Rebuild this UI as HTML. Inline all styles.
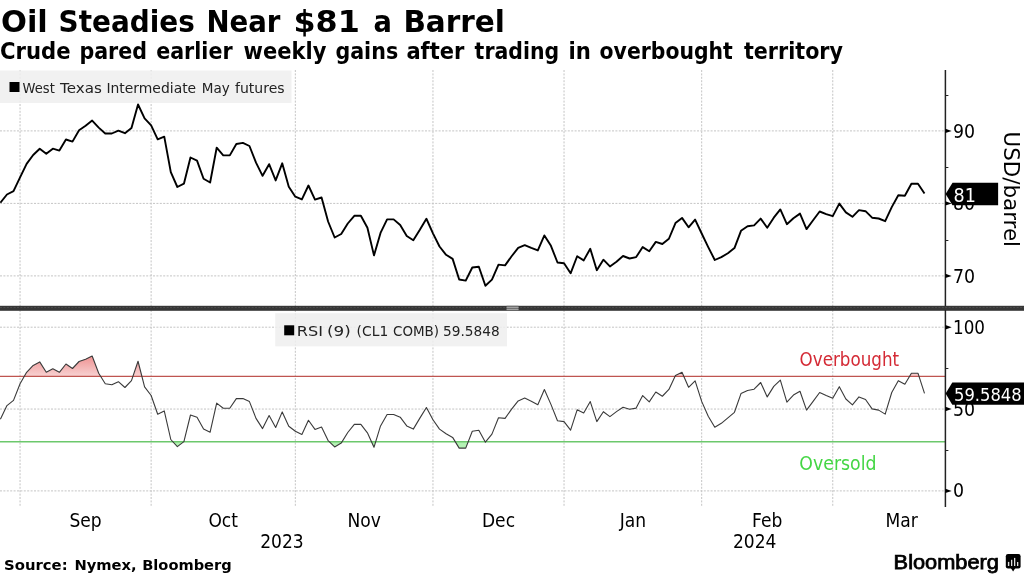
<!DOCTYPE html>
<html><head><meta charset="utf-8"><style>
html,body{margin:0;padding:0;background:#fff;width:1024px;height:576px;overflow:hidden}
svg{display:block}
.t{font-family:"DejaVu Sans","Liberation Sans",sans-serif}
.c{font-family:"DejaVu Sans Condensed","DejaVu Sans","Liberation Sans",sans-serif}
</style></head><body>
<svg width="1024" height="576" viewBox="0 0 1024 576">
<defs>
<linearGradient id="ob" x1="0" y1="355" x2="0" y2="376.35" gradientUnits="userSpaceOnUse">
<stop offset="0" stop-color="#ef8e8e"/><stop offset="1" stop-color="#f7d2d2"/>
</linearGradient>
<clipPath id="cAbove"><rect x="0" y="300" width="945" height="76.35000000000002"/></clipPath>
<clipPath id="cBelow"><rect x="0" y="441.8" width="945" height="60"/></clipPath>
</defs>
<rect width="1024" height="576" fill="#fff"/>
<g class="t" font-weight="bold" fill="#000">
<text x="1.0" y="31.7" font-size="30.2" textLength="46.8" lengthAdjust="spacingAndGlyphs">Oil</text>
<text x="58.6" y="31.7" font-size="30.2" textLength="136.2" lengthAdjust="spacingAndGlyphs">Steadies</text>
<text x="206.4" y="31.7" font-size="30.2" textLength="74.0" lengthAdjust="spacingAndGlyphs">Near</text>
<text x="293.4" y="31.7" font-size="30.2" textLength="66.4" lengthAdjust="spacingAndGlyphs">$81</text>
<text x="373.6" y="31.7" font-size="30.2" textLength="18.4" lengthAdjust="spacingAndGlyphs">a</text>
<text x="403.4" y="31.7" font-size="30.2" textLength="101.6" lengthAdjust="spacingAndGlyphs">Barrel</text>
<text x="0.0" y="58.6" font-size="22.2" textLength="70.6" lengthAdjust="spacingAndGlyphs">Crude</text>
<text x="79.4" y="58.6" font-size="22.2" textLength="67.6" lengthAdjust="spacingAndGlyphs">pared</text>
<text x="156.2" y="58.6" font-size="22.2" textLength="76.4" lengthAdjust="spacingAndGlyphs">earlier</text>
<text x="243.6" y="58.6" font-size="22.2" textLength="82.8" lengthAdjust="spacingAndGlyphs">weekly</text>
<text x="335.4" y="58.6" font-size="22.2" textLength="62.8" lengthAdjust="spacingAndGlyphs">gains</text>
<text x="406.4" y="58.6" font-size="22.2" textLength="58.0" lengthAdjust="spacingAndGlyphs">after</text>
<text x="474.6" y="58.6" font-size="22.2" textLength="84.6" lengthAdjust="spacingAndGlyphs">trading</text>
<text x="568.4" y="58.6" font-size="22.2" textLength="22.4" lengthAdjust="spacingAndGlyphs">in</text>
<text x="599.6" y="58.6" font-size="22.2" textLength="133.2" lengthAdjust="spacingAndGlyphs">overbought</text>
<text x="744.0" y="58.6" font-size="22.2" textLength="99.0" lengthAdjust="spacingAndGlyphs">territory</text>
</g>
<g stroke="#c4c4c4" stroke-width="1" stroke-dasharray="2,1.4" fill="none">
<line x1="0" y1="130.90" x2="945.4" y2="130.90"/>
<line x1="0" y1="203.40" x2="945.4" y2="203.40"/>
<line x1="0" y1="275.90" x2="945.4" y2="275.90"/>
<line x1="0" y1="327.20" x2="945.4" y2="327.20"/>
<line x1="0" y1="409.05" x2="945.4" y2="409.05"/>
<line x1="0" y1="490.90" x2="945.4" y2="490.90"/>
<line x1="20.06" y1="70" x2="20.06" y2="306"/>
<line x1="20.06" y1="310" x2="20.06" y2="507"/>
<line x1="151.14" y1="70" x2="151.14" y2="306"/>
<line x1="151.14" y1="310" x2="151.14" y2="507"/>
<line x1="295.33" y1="70" x2="295.33" y2="306"/>
<line x1="295.33" y1="310" x2="295.33" y2="507"/>
<line x1="432.96" y1="70" x2="432.96" y2="306"/>
<line x1="432.96" y1="310" x2="432.96" y2="507"/>
<line x1="564.04" y1="70" x2="564.04" y2="306"/>
<line x1="564.04" y1="310" x2="564.04" y2="507"/>
<line x1="701.68" y1="70" x2="701.68" y2="306"/>
<line x1="701.68" y1="310" x2="701.68" y2="507"/>
<line x1="832.76" y1="70" x2="832.76" y2="306"/>
<line x1="832.76" y1="310" x2="832.76" y2="507"/>
</g>
<polygon points="0.4,376.35 0.40,419.20 6.95,405.60 13.51,400.40 20.06,383.75 26.62,372.30 33.17,365.40 39.72,361.90 46.28,372.30 52.83,368.75 59.39,372.30 65.94,364.00 72.49,368.50 79.05,361.50 85.60,359.20 92.16,356.00 98.71,373.30 105.26,383.75 111.82,384.80 118.37,381.70 124.93,387.50 131.48,380.60 138.03,361.25 144.59,386.90 151.14,395.50 157.70,414.20 164.25,410.90 170.80,439.50 177.36,446.60 183.91,441.60 190.47,415.00 197.02,417.20 203.57,429.10 210.13,432.20 216.68,403.10 223.24,408.30 229.79,408.30 236.34,398.60 242.90,398.60 249.45,401.60 256.01,418.40 262.56,428.60 269.11,415.60 275.67,427.50 282.22,411.90 288.78,426.25 295.33,431.25 301.88,434.40 308.44,420.30 314.99,429.40 321.55,427.00 328.10,440.60 334.65,446.90 341.21,443.10 347.76,432.50 354.32,424.40 360.87,424.40 367.42,432.80 373.98,447.30 380.53,425.90 387.09,414.50 393.64,414.50 400.19,417.20 406.75,425.90 413.30,429.10 419.86,418.10 426.41,407.50 432.96,419.70 439.52,429.10 446.07,433.75 452.63,437.40 459.18,448.10 465.73,448.10 472.29,431.25 478.84,430.30 485.40,442.20 491.95,434.10 498.50,417.70 505.06,418.40 511.61,409.10 518.17,400.90 524.72,398.10 531.27,401.25 537.83,404.70 544.38,389.50 550.94,404.40 557.49,420.80 564.04,421.60 570.60,430.20 577.15,409.80 583.71,413.00 590.26,401.60 596.81,421.60 603.37,411.70 609.92,416.60 616.48,411.60 623.03,407.20 629.58,409.20 636.14,408.10 642.69,395.60 649.25,401.90 655.80,392.00 662.35,396.25 668.91,389.40 675.46,375.60 682.02,372.20 688.57,387.30 695.12,380.80 701.68,401.40 708.23,416.25 714.79,427.20 721.34,423.30 727.89,417.80 734.45,412.30 741.00,393.60 747.56,390.50 754.11,389.20 760.66,382.50 767.22,396.90 773.77,386.40 780.33,380.20 786.88,402.20 793.43,395.10 799.99,391.30 806.54,410.10 813.10,401.30 819.65,392.50 826.20,395.50 832.76,398.30 839.31,386.70 845.87,399.00 852.42,404.80 858.97,396.90 865.53,399.50 872.08,408.90 878.64,410.10 885.19,414.10 891.74,392.50 898.30,380.70 904.85,384.30 911.41,373.20 917.96,373.20 924.51,393.40 924.51,376.35" fill="url(#ob)" clip-path="url(#cAbove)"/>
<polygon points="0.4,441.8 0.40,419.20 6.95,405.60 13.51,400.40 20.06,383.75 26.62,372.30 33.17,365.40 39.72,361.90 46.28,372.30 52.83,368.75 59.39,372.30 65.94,364.00 72.49,368.50 79.05,361.50 85.60,359.20 92.16,356.00 98.71,373.30 105.26,383.75 111.82,384.80 118.37,381.70 124.93,387.50 131.48,380.60 138.03,361.25 144.59,386.90 151.14,395.50 157.70,414.20 164.25,410.90 170.80,439.50 177.36,446.60 183.91,441.60 190.47,415.00 197.02,417.20 203.57,429.10 210.13,432.20 216.68,403.10 223.24,408.30 229.79,408.30 236.34,398.60 242.90,398.60 249.45,401.60 256.01,418.40 262.56,428.60 269.11,415.60 275.67,427.50 282.22,411.90 288.78,426.25 295.33,431.25 301.88,434.40 308.44,420.30 314.99,429.40 321.55,427.00 328.10,440.60 334.65,446.90 341.21,443.10 347.76,432.50 354.32,424.40 360.87,424.40 367.42,432.80 373.98,447.30 380.53,425.90 387.09,414.50 393.64,414.50 400.19,417.20 406.75,425.90 413.30,429.10 419.86,418.10 426.41,407.50 432.96,419.70 439.52,429.10 446.07,433.75 452.63,437.40 459.18,448.10 465.73,448.10 472.29,431.25 478.84,430.30 485.40,442.20 491.95,434.10 498.50,417.70 505.06,418.40 511.61,409.10 518.17,400.90 524.72,398.10 531.27,401.25 537.83,404.70 544.38,389.50 550.94,404.40 557.49,420.80 564.04,421.60 570.60,430.20 577.15,409.80 583.71,413.00 590.26,401.60 596.81,421.60 603.37,411.70 609.92,416.60 616.48,411.60 623.03,407.20 629.58,409.20 636.14,408.10 642.69,395.60 649.25,401.90 655.80,392.00 662.35,396.25 668.91,389.40 675.46,375.60 682.02,372.20 688.57,387.30 695.12,380.80 701.68,401.40 708.23,416.25 714.79,427.20 721.34,423.30 727.89,417.80 734.45,412.30 741.00,393.60 747.56,390.50 754.11,389.20 760.66,382.50 767.22,396.90 773.77,386.40 780.33,380.20 786.88,402.20 793.43,395.10 799.99,391.30 806.54,410.10 813.10,401.30 819.65,392.50 826.20,395.50 832.76,398.30 839.31,386.70 845.87,399.00 852.42,404.80 858.97,396.90 865.53,399.50 872.08,408.90 878.64,410.10 885.19,414.10 891.74,392.50 898.30,380.70 904.85,384.30 911.41,373.20 917.96,373.20 924.51,393.40 924.51,441.8" fill="#b4f2b4" clip-path="url(#cBelow)"/>
<line x1="0" y1="376.35" x2="945.4" y2="376.35" stroke="#bf5550" stroke-width="1.4"/>
<line x1="0" y1="441.8" x2="945.4" y2="441.8" stroke="#6cc86c" stroke-width="1.4"/>
<text class="c" x="799.6" y="365.6" font-size="18.6" fill="#d42a35" textLength="99.6" lengthAdjust="spacingAndGlyphs">Overbought</text>
<text class="c" x="799.3" y="469.6" font-size="19.2" fill="#44d644" textLength="77.2" lengthAdjust="spacingAndGlyphs">Oversold</text>
<rect x="0" y="70.5" width="291.5" height="32.5" fill="#efefef" fill-opacity="0.85"/>
<rect x="9.5" y="82" width="10" height="10" fill="#000"/>
<g class="t" font-size="14.3" fill="#222"><text x="22.6" y="92.6" textLength="32.2" lengthAdjust="spacingAndGlyphs">West</text><text x="60.0" y="92.6" textLength="41.8" lengthAdjust="spacingAndGlyphs">Texas</text><text x="106.4" y="92.6" textLength="89.8" lengthAdjust="spacingAndGlyphs">Intermediate</text><text x="201.8" y="92.6" textLength="28.0" lengthAdjust="spacingAndGlyphs">May</text><text x="235.0" y="92.6" textLength="49.6" lengthAdjust="spacingAndGlyphs">futures</text></g>
<rect x="275.2" y="313.2" width="231.8" height="33.1" fill="#efefef" fill-opacity="0.85"/>
<rect x="284.2" y="325.3" width="10" height="10" fill="#000"/>
<g class="t" font-size="14.4" fill="#222"><text x="296.8" y="336.2" textLength="26.2" lengthAdjust="spacingAndGlyphs">RSI</text><text x="327.0" y="336.2" textLength="23.8" lengthAdjust="spacingAndGlyphs">(9)</text><text x="356.6" y="336.2" textLength="31.6" lengthAdjust="spacingAndGlyphs">(CL1</text><text x="393.0" y="336.2" textLength="46.0" lengthAdjust="spacingAndGlyphs">COMB)</text><text x="443.0" y="336.2" textLength="56.6" lengthAdjust="spacingAndGlyphs">59.5848</text></g>
<polyline points="0.40,202.70 6.95,194.50 13.51,191.20 20.06,177.30 26.62,163.90 33.17,155.00 39.72,148.70 46.28,153.80 52.83,148.70 59.39,150.60 65.94,139.50 72.49,141.60 79.05,130.20 85.60,125.80 92.16,120.60 98.71,127.60 105.26,133.50 111.82,133.50 118.37,130.60 124.93,133.20 131.48,128.00 138.03,104.50 144.59,118.40 151.14,125.40 157.70,139.30 164.25,136.70 170.80,172.20 177.36,187.00 183.91,183.70 190.47,157.50 197.02,160.60 203.57,178.75 210.13,182.50 216.68,147.70 223.24,155.40 229.79,155.40 236.34,144.00 242.90,142.90 249.45,146.00 256.01,162.70 262.56,175.80 269.11,164.20 275.67,180.40 282.22,163.30 288.78,186.70 295.33,196.70 301.88,199.40 308.44,185.50 314.99,199.60 321.55,197.50 328.10,221.50 334.65,237.50 341.21,234.00 347.76,223.50 354.32,215.80 360.87,215.80 367.42,227.70 373.98,255.40 380.53,232.90 387.09,219.40 393.64,219.40 400.19,225.00 406.75,236.00 413.30,240.20 419.86,229.80 426.41,218.75 432.96,233.30 439.52,246.50 446.07,254.80 452.63,258.90 459.18,279.50 465.73,280.60 472.29,267.50 478.84,266.70 485.40,285.80 491.95,279.60 498.50,264.60 505.06,265.40 511.61,256.25 518.17,247.90 524.72,245.20 531.27,247.90 537.83,250.40 544.38,235.40 550.94,245.80 557.49,262.50 564.04,263.30 570.60,273.30 577.15,256.25 583.71,260.40 590.26,248.75 596.81,270.20 603.37,259.70 609.92,266.40 616.48,261.70 623.03,256.00 629.58,258.50 636.14,257.10 642.69,247.10 649.25,251.25 655.80,241.90 662.35,244.00 668.91,238.75 675.46,223.10 682.02,217.90 688.57,227.30 695.12,219.60 701.68,233.50 708.23,247.10 714.79,260.00 721.34,257.10 727.89,253.30 734.45,248.10 741.00,230.80 747.56,226.25 754.11,225.40 760.66,218.60 767.22,227.70 773.77,217.70 780.33,209.40 786.88,224.20 793.43,218.20 799.99,213.60 806.54,229.10 813.10,220.30 819.65,211.50 826.20,214.10 832.76,216.10 839.31,203.60 845.87,212.40 852.42,216.80 858.97,210.10 865.53,211.20 872.08,217.70 878.64,218.50 885.19,221.20 891.74,207.10 898.30,195.30 904.85,195.70 911.41,183.70 917.96,183.70 924.51,193.60" fill="none" stroke="#000" stroke-width="1.9" stroke-linejoin="round"/>
<polyline points="0.40,419.20 6.95,405.60 13.51,400.40 20.06,383.75 26.62,372.30 33.17,365.40 39.72,361.90 46.28,372.30 52.83,368.75 59.39,372.30 65.94,364.00 72.49,368.50 79.05,361.50 85.60,359.20 92.16,356.00 98.71,373.30 105.26,383.75 111.82,384.80 118.37,381.70 124.93,387.50 131.48,380.60 138.03,361.25 144.59,386.90 151.14,395.50 157.70,414.20 164.25,410.90 170.80,439.50 177.36,446.60 183.91,441.60 190.47,415.00 197.02,417.20 203.57,429.10 210.13,432.20 216.68,403.10 223.24,408.30 229.79,408.30 236.34,398.60 242.90,398.60 249.45,401.60 256.01,418.40 262.56,428.60 269.11,415.60 275.67,427.50 282.22,411.90 288.78,426.25 295.33,431.25 301.88,434.40 308.44,420.30 314.99,429.40 321.55,427.00 328.10,440.60 334.65,446.90 341.21,443.10 347.76,432.50 354.32,424.40 360.87,424.40 367.42,432.80 373.98,447.30 380.53,425.90 387.09,414.50 393.64,414.50 400.19,417.20 406.75,425.90 413.30,429.10 419.86,418.10 426.41,407.50 432.96,419.70 439.52,429.10 446.07,433.75 452.63,437.40 459.18,448.10 465.73,448.10 472.29,431.25 478.84,430.30 485.40,442.20 491.95,434.10 498.50,417.70 505.06,418.40 511.61,409.10 518.17,400.90 524.72,398.10 531.27,401.25 537.83,404.70 544.38,389.50 550.94,404.40 557.49,420.80 564.04,421.60 570.60,430.20 577.15,409.80 583.71,413.00 590.26,401.60 596.81,421.60 603.37,411.70 609.92,416.60 616.48,411.60 623.03,407.20 629.58,409.20 636.14,408.10 642.69,395.60 649.25,401.90 655.80,392.00 662.35,396.25 668.91,389.40 675.46,375.60 682.02,372.20 688.57,387.30 695.12,380.80 701.68,401.40 708.23,416.25 714.79,427.20 721.34,423.30 727.89,417.80 734.45,412.30 741.00,393.60 747.56,390.50 754.11,389.20 760.66,382.50 767.22,396.90 773.77,386.40 780.33,380.20 786.88,402.20 793.43,395.10 799.99,391.30 806.54,410.10 813.10,401.30 819.65,392.50 826.20,395.50 832.76,398.30 839.31,386.70 845.87,399.00 852.42,404.80 858.97,396.90 865.53,399.50 872.08,408.90 878.64,410.10 885.19,414.10 891.74,392.50 898.30,380.70 904.85,384.30 911.41,373.20 917.96,373.20 924.51,393.40" fill="none" stroke="#3a3a3a" stroke-width="1.1" stroke-linejoin="round"/>
<rect x="0" y="305.8" width="1024" height="5" fill="#363636"/>
<line x1="0" y1="307.6" x2="1024" y2="307.6" stroke="#4e4e4e" stroke-width="1" stroke-dasharray="2,1.4"/>
<rect x="506.6" y="305.8" width="11.9" height="5" fill="#6a6a6a"/>
<rect x="506.6" y="306.9" width="11.9" height="1" fill="#a8a8a8"/>
<rect x="506.6" y="308.9" width="11.9" height="1" fill="#a8a8a8"/>
<line x1="945.4" y1="70" x2="945.4" y2="306" stroke="#222" stroke-width="1.5"/>
<line x1="945.4" y1="310" x2="945.4" y2="507" stroke="#222" stroke-width="1.5"/>
<polygon points="945.4,128.7 951.6999999999999,130.9 945.4,133.1" fill="#000"/>
<text class="c" x="953" y="137.5" font-size="19.3" fill="#000">90</text>
<polygon points="945.4,201.2 951.6999999999999,203.4 945.4,205.6" fill="#000"/>
<text class="c" x="953" y="210.0" font-size="19.3" fill="#000">80</text>
<polygon points="945.4,273.7 951.6999999999999,275.9 945.4,278.1" fill="#000"/>
<text class="c" x="953" y="282.5" font-size="19.3" fill="#000">70</text>
<line x1="945.4" y1="95.5" x2="948.4" y2="95.5" stroke="#222" stroke-width="1"/>
<line x1="945.4" y1="167.5" x2="948.4" y2="167.5" stroke="#222" stroke-width="1"/>
<line x1="945.4" y1="240.5" x2="948.4" y2="240.5" stroke="#222" stroke-width="1"/>
<polygon points="945.4,325.0 951.6999999999999,327.2 945.4,329.4" fill="#000"/>
<text class="c" x="953" y="333.7" font-size="19.3" fill="#000" textLength="32" lengthAdjust="spacingAndGlyphs">100</text>
<polygon points="945.4,406.8 951.6999999999999,409.0 945.4,411.2" fill="#000"/>
<text class="c" x="953" y="415.5" font-size="19.3" fill="#000">50</text>
<polygon points="945.4,488.7 951.6999999999999,490.9 945.4,493.1" fill="#000"/>
<text class="c" x="953" y="497.4" font-size="19.3" fill="#000">0</text>
<line x1="945.4" y1="368.5" x2="948.4" y2="368.5" stroke="#222" stroke-width="1"/>
<line x1="945.4" y1="450.5" x2="948.4" y2="450.5" stroke="#222" stroke-width="1"/>
<polygon points="945.6,193.9 952.5,182.7 998.1,182.7 998.1,205.2 952.5,205.2" fill="#000"/>
<text class="c" x="953.5" y="201.7" font-size="19.5" fill="#fff">81</text>
<polygon points="945.6,393.5 952.3,382.4 1024,382.4 1024,404.7 952.3,404.7" fill="#000"/>
<text class="c" x="954" y="401.4" font-size="18.4" fill="#fff" textLength="67.6" lengthAdjust="spacingAndGlyphs">59.5848</text>
<text class="t" transform="translate(1004,131.6) rotate(90)" font-size="21.4" fill="#000">USD/barrel</text>
<text class="c" x="85.6" y="526.9" font-size="19" fill="#000" text-anchor="middle">Sep</text>
<text class="c" x="223.2" y="526.9" font-size="19" fill="#000" text-anchor="middle">Oct</text>
<text class="c" x="364.1" y="526.9" font-size="19" fill="#000" text-anchor="middle">Nov</text>
<text class="c" x="498.5" y="526.9" font-size="19" fill="#000" text-anchor="middle">Dec</text>
<text class="c" x="632.9" y="526.9" font-size="19" fill="#000" text-anchor="middle">Jan</text>
<text class="c" x="767.2" y="526.9" font-size="19" fill="#000" text-anchor="middle">Feb</text>
<text class="c" x="901.6" y="526.9" font-size="19" fill="#000" text-anchor="middle">Mar</text>
<text class="c" x="282.0" y="547.9" font-size="19" fill="#000" text-anchor="middle">2023</text>
<text class="c" x="754.7" y="547.9" font-size="19" fill="#000" text-anchor="middle">2024</text>
<g class="t" font-size="14.6" font-weight="bold" fill="#000">
<text x="4.0" y="569.6" textLength="63.6" lengthAdjust="spacingAndGlyphs">Source:</text>
<text x="74.4" y="569.6" textLength="62.3" lengthAdjust="spacingAndGlyphs">Nymex,</text>
<text x="142.2" y="569.6" textLength="89.5" lengthAdjust="spacingAndGlyphs">Bloomberg</text>
</g>
<text x="893.6" y="568.6" font-family="Liberation Sans, sans-serif" font-size="19.3" fill="#000" stroke="#000" stroke-width="0.75" textLength="105.4" lengthAdjust="spacingAndGlyphs">Bloomberg</text>
<g>
<rect x="1005.8" y="554" width="14.8" height="14.5" rx="2.2" fill="#000"/>
<polygon points="1010.8,568 1013.1,571.6 1015.4,568" fill="#000"/>
<rect x="1007.9" y="561.9" width="1.4" height="4.1" fill="#ddd"/>
<rect x="1011" y="559.8" width="1.3" height="6.2" fill="#ddd"/>
<rect x="1014" y="557.9" width="1.3" height="8.1" fill="#ddd"/>
<rect x="1017" y="562" width="1.3" height="4" fill="#ddd"/>
</g>
</svg>
</body></html>
